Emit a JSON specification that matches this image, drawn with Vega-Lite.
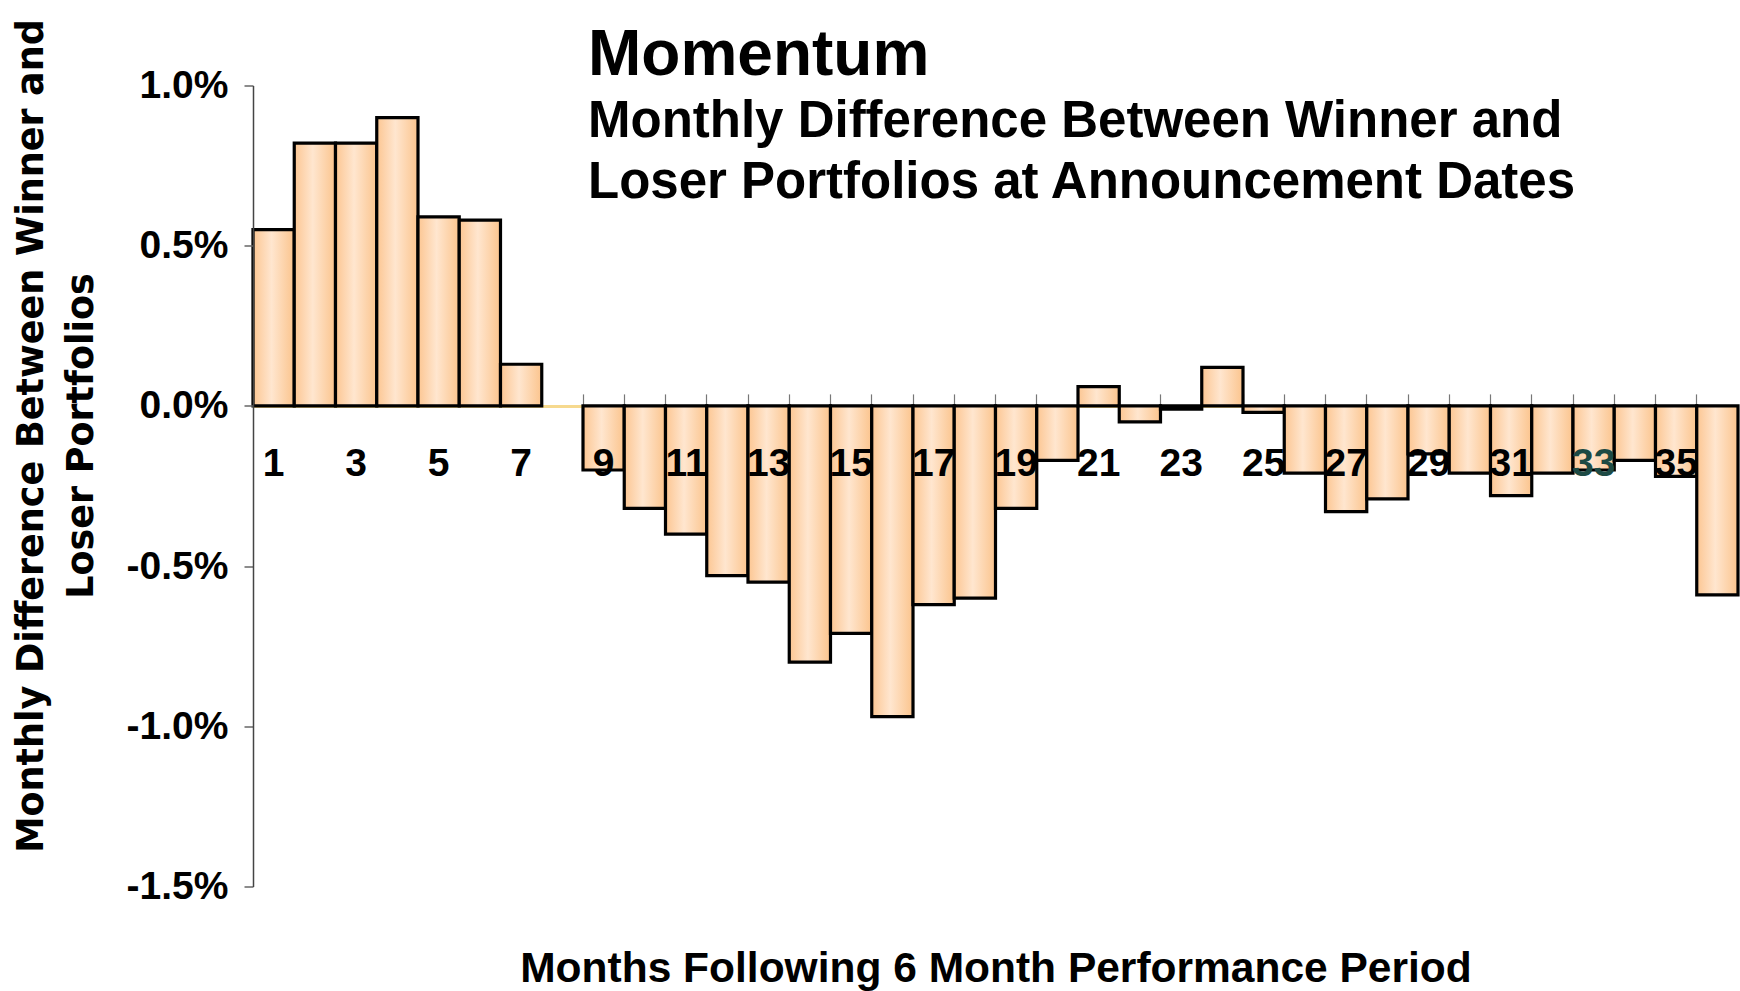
{
  "$schema": "https://vega.github.io/schema/vega-lite/v6.json",
  "width": 1485,
  "height": 801,
  "autosize": {"type": "none"},
  "padding": {"left": 253, "top": 85.5, "right": 2, "bottom": 104.5},
  "background": "white",
  "config": {"view": {"stroke": null}},
  "title": {
    "text": "Momentum",
    "subtitle": ["Monthly Difference Between Winner and", "Loser Portfolios at Announcement Dates"],
    "anchor": "start",
    "frame": "group",
    "dx": 335,
    "offset": -189,
    "font": "Liberation Sans",
    "fontSize": 64,
    "fontWeight": "bold",
    "color": "black",
    "subtitleFont": "Liberation Sans",
    "subtitleFontSize": 51,
    "subtitleFontWeight": "bold",
    "subtitleColor": "black",
    "subtitleLineHeight": 61,
    "subtitlePadding": 9
  },
  "data": {
    "values": [
      {"month": 1, "value": 0.0055},
      {"month": 2, "value": 0.0082},
      {"month": 3, "value": 0.0082},
      {"month": 4, "value": 0.0090},
      {"month": 5, "value": 0.0059},
      {"month": 6, "value": 0.0058},
      {"month": 7, "value": 0.0013},
      {"month": 9, "value": -0.0020},
      {"month": 10, "value": -0.0032},
      {"month": 11, "value": -0.0040},
      {"month": 12, "value": -0.0053},
      {"month": 13, "value": -0.0055},
      {"month": 14, "value": -0.0080},
      {"month": 15, "value": -0.0071},
      {"month": 16, "value": -0.0097},
      {"month": 17, "value": -0.0062},
      {"month": 18, "value": -0.0060},
      {"month": 19, "value": -0.0032},
      {"month": 20, "value": -0.0017},
      {"month": 21, "value": 0.0006},
      {"month": 22, "value": -0.0005},
      {"month": 23, "value": -0.0001},
      {"month": 24, "value": 0.0012},
      {"month": 25, "value": -0.0002},
      {"month": 26, "value": -0.0021},
      {"month": 27, "value": -0.0033},
      {"month": 28, "value": -0.0029},
      {"month": 29, "value": -0.0015},
      {"month": 30, "value": -0.0021},
      {"month": 31, "value": -0.0028},
      {"month": 32, "value": -0.0021},
      {"month": 33, "value": -0.0020},
      {"month": 34, "value": -0.0017},
      {"month": 35, "value": -0.0022},
      {"month": 36, "value": -0.0059}
    ]
  },
  "resolve": {"axis": {"x": "independent"}},
  "encoding": {
    "y": {
      "field": "value",
      "type": "quantitative",
      "scale": {"domain": [-0.015, 0.01], "nice": false},
      "axis": {
        "values": [-0.015, -0.01, -0.005, 0, 0.005, 0.01],
        "labelExpr": "replace(format(datum.value, '.1%'), '\u2212', '-')",
        "grid": false,
        "domainColor": "#444",
        "domainWidth": 1.5,
        "tickColor": "#666",
        "tickSize": 9,
        "tickWidth": 1.5,
        "labelPadding": 16,
        "labelFont": "Liberation Sans",
        "labelFontSize": 39,
        "labelFontWeight": "bold",
        "labelColor": "black",
        "labelFlush": false,
        "title": ["Monthly Difference Between Winner and", "Loser Portfolios"],
        "titleFont": "DejaVu Sans",
        "titleFontSize": 36.5,
        "titleFontWeight": "bold",
        "titleColor": "black",
        "titleAngle": -90,
        "titleX": -222,
        "titleY": 350,
        "titleBaseline": "middle",
        "titleAlign": "center",
        "titleLineHeight": 50,
        "zindex": 1
      }
    }
  },
  "layer": [
    {
      "mark": {"type": "bar", "opacity": 0},
      "encoding": {
        "x": {
          "field": "month",
          "type": "ordinal",
          "axis": {
            "orient": "top",
            "offset": -320.4,
            "domain": true,
            "domainColor": "#f6d98e",
            "domainWidth": 3,
            "labels": false,
            "ticks": true,
            "tickSize": 12,
            "tickColor": "#777",
            "tickWidth": 1.2,
            "bandPosition": 0,
            "title": null,
            "zindex": 0
          }
        }
      }
    },
    {
      "mark": {
        "type": "bar",
        "stroke": "black",
        "strokeWidth": 3.2,
        "fill": {
          "gradient": "linear",
          "x1": 0, "y1": 0, "x2": 1, "y2": 0,
          "stops": [
            {"offset": 0, "color": "#fcc692"},
            {"offset": 0.45, "color": "#ffe6cf"},
            {"offset": 1, "color": "#fbc48d"}
          ]
        }
      },
      "encoding": {
        "x": {
          "field": "month",
          "type": "ordinal",
          "scale": {
            "domain": [1,2,3,4,5,6,7,8,9,10,11,12,13,14,15,16,17,18,19,20,21,22,23,24,25,26,27,28,29,30,31,32,33,34,35,36],
            "paddingInner": 0,
            "paddingOuter": 0
          },
          "axis": {
            "orient": "bottom",
            "offset": -480.6,
            "domain": false,
            "ticks": false,
            "tickSize": 0,
            "labelPadding": 58,
            "labelBaseline": "middle",
            "labelAngle": 0,
            "labelFont": "Liberation Sans",
            "labelFontSize": 39,
            "labelFontWeight": "bold",
            "labelColor": {"condition": {"test": "datum.value == 33", "value": "#1d4a44"}, "value": "black"},
            "labelExpr": "datum.value % 2 == 1 ? datum.label : ''",
            "labelOverlap": false,
            "labelFlush": false,
            "zindex": 2,
            "title": "Months Following 6 Month Performance Period",
            "titleFont": "Liberation Sans",
            "titleFontSize": 42.5,
            "titleFontWeight": "bold",
            "titleColor": "black",
            "titleY": 576,
            "titleBaseline": "alphabetic"
          }
        }
      }
    }
  ]
}
